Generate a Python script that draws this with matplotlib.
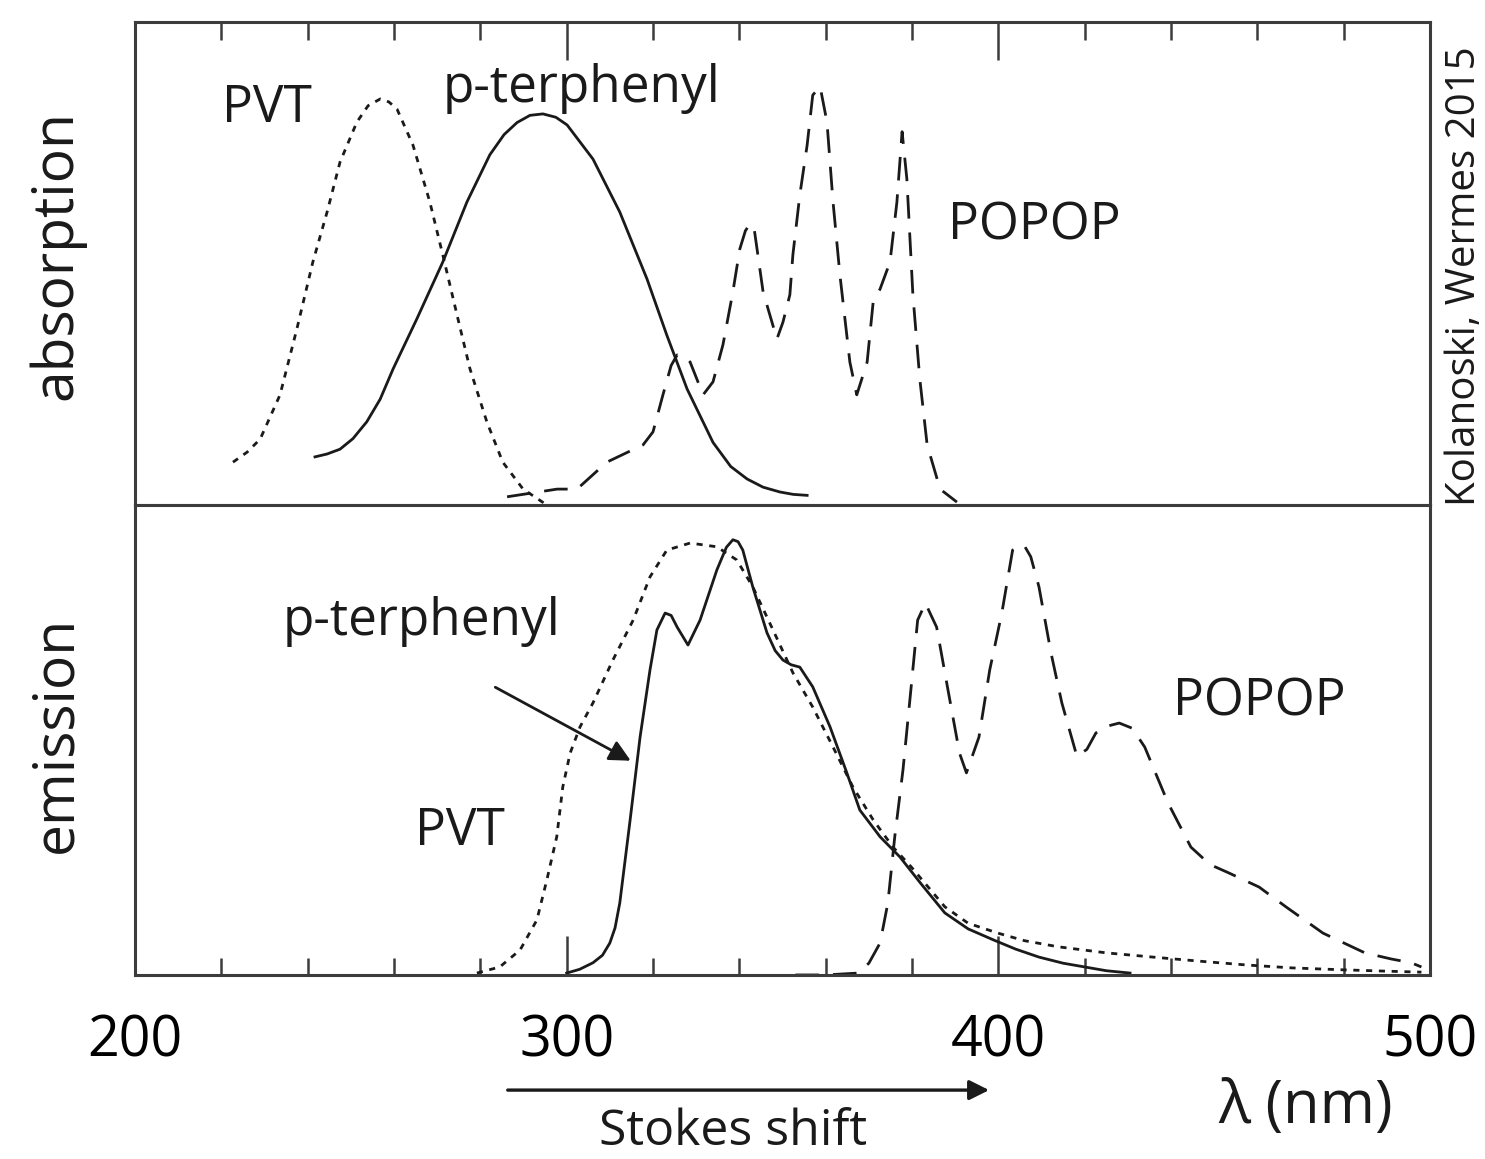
import numpy as np
import matplotlib
matplotlib.use('Agg')
import matplotlib.pyplot as plt
from matplotlib.ticker import FixedLocator

plt.rcParams['font.family'] = ['Open Sans', 'DejaVu Sans']

# Absorption spectra (wavelength in nm, normalized intensity)
pvt_abs_x = [222.7, 226, 229, 233.6, 237.5, 241.2, 244.5, 247.5, 251.4, 254, 256.8, 258.8, 260.7,
             264.4, 268.3, 271.3, 274.6, 277.6, 281.5, 285.2, 289.9, 295.4]
pvt_abs_y = [0.089, 0.11, 0.137, 0.229, 0.366, 0.505, 0.609, 0.713, 0.796, 0.83, 0.844, 0.838, 0.823,
             0.748, 0.630, 0.520, 0.395, 0.283, 0.173, 0.089, 0.033, 0.0]

pter_abs_x = [241.7, 244.5, 247.5, 250.5, 253.7, 256.8, 259.8, 265.3, 271.3, 276.9, 282.2, 285.5, 288.5,
              291.5, 294.5, 297.5, 300.1, 306.1, 312.3, 318.6, 323.2, 327.9, 333.9, 338, 341.8,
              345.5, 349.4, 352.5, 355.7]
pter_abs_y = [0.10, 0.106, 0.116, 0.138, 0.173, 0.22, 0.283, 0.387, 0.505, 0.630, 0.728, 0.77, 0.795,
              0.81, 0.813, 0.806, 0.790, 0.719, 0.609, 0.470, 0.353, 0.241, 0.13, 0.08, 0.054,
              0.037, 0.027, 0.022, 0.02]

popop_abs_x = [286.2, 292, 297.8, 302.4, 309.3, 317.7, 320, 322.3, 324.2, 325.6, 327.2, 328.6, 331.6,
               333.9, 336.2, 338.5, 340.1, 341.4, 342.5, 343.5, 345.5, 348.7, 350.1, 351.7, 352.4, 354,
               355.7, 357, 358.7, 360.3, 361.7, 363.3, 365.6, 367.2, 369.6, 371, 372.6, 374.9, 376.5,
               377.7, 378.8, 380.2, 381.8, 383.5, 386.5, 390.4]
popop_abs_y = [0.017, 0.025, 0.033, 0.033, 0.089, 0.125, 0.152, 0.229, 0.29, 0.312, 0.31, 0.297, 0.229,
               0.256, 0.333, 0.443, 0.532, 0.57, 0.585, 0.57, 0.443, 0.345, 0.380, 0.437, 0.52, 0.644,
               0.748, 0.852, 0.87, 0.796, 0.63, 0.478, 0.297, 0.229, 0.297, 0.422, 0.449, 0.505, 0.63,
               0.776, 0.678, 0.437, 0.262, 0.125, 0.033, 0.006]

# Emission spectra
pvt_em_x = [279.2, 284.5, 289.2, 293.1, 295.4, 297.7, 299.1, 300.8, 303.1, 306.1, 310.7, 315.4, 319.3,
            323.2, 328.6, 334.8, 339.4, 343.1, 347.8, 352.4, 357, 361.7, 366.3, 371, 375.6, 379.8,
            387.6, 393, 399.9, 406, 413.8, 425, 435.8, 447, 457.8, 468, 479.6, 490, 498]
pvt_em_y = [0.004, 0.017, 0.053, 0.117, 0.202, 0.294, 0.40, 0.472, 0.528, 0.579, 0.670, 0.755, 0.847,
            0.904, 0.919, 0.911, 0.883, 0.826, 0.734, 0.643, 0.570, 0.485, 0.40, 0.33, 0.272, 0.23,
            0.145, 0.11, 0.089, 0.073, 0.06, 0.047, 0.038, 0.029, 0.021, 0.015, 0.011, 0.008, 0.006]

pter_em_x = [300, 303, 306.1, 308.3, 310, 311.2, 312.3, 314.7, 317, 319.3, 320.9, 322.8, 324.2, 325.6,
             328.1, 330.9, 334.8, 337, 338.5, 339.7, 340.8, 343.1, 346.4, 348.3, 350.1, 352, 354,
             357, 361, 364.9, 367.9, 372.6, 377.2, 382, 387.6, 393, 399, 404, 409.4, 415, 420, 425,
             430.5]
pter_em_y = [0.004, 0.012, 0.026, 0.042, 0.068, 0.1, 0.153, 0.33, 0.506, 0.649, 0.734, 0.77, 0.765, 0.74,
             0.702, 0.755, 0.862, 0.91, 0.926, 0.922, 0.904, 0.826, 0.728, 0.69, 0.670, 0.66, 0.655,
             0.613, 0.528, 0.43, 0.351, 0.294, 0.251, 0.195, 0.132, 0.098, 0.074, 0.055, 0.038, 0.025,
             0.017, 0.009, 0.004]

popop_em_x = [353, 360, 367.5, 370, 372.6, 374.4, 376, 377.9, 379.8, 381.3, 383.1, 385.7, 388.2, 391,
              392.6, 395.5, 398, 400.8, 403.3, 405.9, 407.5, 409.4, 412.2, 414.7, 418.2, 420.5, 422.6,
              425.5, 428, 431, 433.9, 439.3, 444.6, 449, 453.4, 460.4, 466.6, 475.2, 484.9, 491, 495.6,
              498]
popop_em_y = [0.0, 0.0, 0.004, 0.025, 0.068, 0.153, 0.294, 0.436, 0.613, 0.755, 0.791, 0.74, 0.613, 0.472,
              0.43, 0.506, 0.649, 0.77, 0.904, 0.915, 0.89, 0.826, 0.685, 0.579, 0.465, 0.48, 0.515,
              0.53, 0.536, 0.525, 0.485, 0.366, 0.272, 0.235, 0.217, 0.187, 0.145, 0.089, 0.047, 0.034,
              0.026, 0.017]

ink = '#1a1a1a'
frame = '#3c3c3c'
dotted = (0, (2.2, 2.4))
dashed = (0, (8.5, 5))
lw = 2.0

fig = plt.figure(figsize=(14.85, 11.59), dpi=100)
ax1 = fig.add_axes([0.0909, 0.5643, 0.8721, 0.4167])
ax2 = fig.add_axes([0.0909, 0.1588, 0.8721, 0.4055])

ax1.plot(pvt_abs_x, pvt_abs_y, color=ink, lw=lw, ls=dotted)
ax1.plot(pter_abs_x, pter_abs_y, color=ink, lw=lw)
ax1.plot(popop_abs_x, popop_abs_y, color=ink, lw=lw, ls=dashed)

ax2.plot(pvt_em_x, pvt_em_y, color=ink, lw=lw, ls=dotted)
ax2.plot(pter_em_x, pter_em_y, color=ink, lw=lw)
ax2.plot(popop_em_x, popop_em_y, color=ink, lw=lw, ls=dashed)

minor = [v for v in range(220, 500, 20) if v % 100 != 0]
for ax in (ax1, ax2):
    ax.set_xlim(200, 500)
    ax.set_ylim(0, 1)
    ax.set_yticks([])
    ax.xaxis.set_major_locator(FixedLocator([200, 300, 400, 500]))
    ax.xaxis.set_minor_locator(FixedLocator(minor))
    for s in ax.spines.values():
        s.set_color(frame)
        s.set_linewidth(2.2)

ax1.tick_params(axis='x', which='both', direction='in', bottom=False, top=True,
                labelbottom=False, labeltop=False, color=frame, width=1.8)
ax1.tick_params(axis='x', which='major', length=27)
ax1.tick_params(axis='x', which='minor', length=13)
ax1.set_ylim(0, 1.004)

ax2.tick_params(axis='x', which='both', direction='in', bottom=True, top=False,
                color=frame, width=1.8)
ax2.tick_params(axis='x', which='major', length=28, labelsize=40, pad=28)
ax2.tick_params(axis='x', which='minor', length=12)

fs = 37
ax1.text(220.2, 0.796, 'PVT', fontsize=fs, color=ink, ha='left', va='baseline')
ax1.text(271.3, 0.838, 'p-terphenyl', fontsize=fs, color=ink, ha='left', va='baseline')
ax1.text(388.3, 0.551, 'POPOP', fontsize=fs, color=ink, ha='left', va='baseline')

ax2.text(234.3, 0.723, 'p-terphenyl', fontsize=fs, color=ink, ha='left', va='baseline')
ax2.text(264.9, 0.277, 'PVT', fontsize=fs, color=ink, ha='left', va='baseline')
ax2.text(440.4, 0.553, 'POPOP', fontsize=fs, color=ink, ha='left', va='baseline')
ax2.annotate('', xy=(315.4, 0.453), xytext=(282.9, 0.615),
             arrowprops=dict(arrowstyle='-|>', color=ink, lw=2, mutation_scale=32))

# Stokes shift arrow below the axis
ax2.annotate('', xy=(398.5, -0.245), xytext=(285.7, -0.245),
             xycoords=ax2.get_xaxis_transform(), textcoords=ax2.get_xaxis_transform(),
             arrowprops=dict(arrowstyle='-|>', color=ink, lw=2.4, mutation_scale=30),
             annotation_clip=False)
fig.text(0.4936, 0.0233, 'Stokes shift', fontsize=36, color=ink, ha='center', va='center')
fig.text(0.879, 0.045, 'λ (nm)', fontsize=43, color=ink, ha='center', va='center')

fig.text(0.038, 0.78, 'absorption', fontsize=41, color=ink, rotation=90, ha='center', va='center')
fig.text(0.038, 0.366, 'emission', fontsize=41, color=ink, rotation=90, ha='center', va='center')
fig.text(0.9865, 0.762, 'Kolanoski, Wermes 2015', fontsize=29, color=ink, rotation=90,
         ha='center', va='center')

fig.savefig('out.png', dpi=100, facecolor='white')
